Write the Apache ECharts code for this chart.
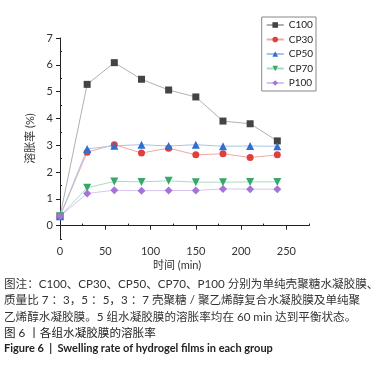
<!DOCTYPE html>
<html>
<head>
<meta charset="utf-8">
<script src="https://cdn.jsdelivr.net/npm/echarts@6/dist/echarts.min.js"></script>
<style>
  html, body { margin: 0; padding: 0; background: #fff; }
  #chart { width: 377px; height: 366px; }
</style>
</head>
<body>
<div id="chart"></div>
<script>
// 时间 (min)
const times = [0, 30, 60, 90, 120, 150, 180, 210, 240];
// 溶胀率 (%) per group
const c100 = [0.35, 5.27, 6.08, 5.46, 5.06, 4.80, 3.90, 3.80, 3.16];
const cp30 = [0.35, 2.74, 3.02, 2.71, 2.89, 2.64, 2.68, 2.54, 2.64];
const cp50 = [0.35, 2.86, 2.98, 3.02, 2.97, 3.02, 2.96, 2.97, 2.96];
const cp70 = [0.35, 1.41, 1.65, 1.63, 1.67, 1.62, 1.62, 1.63, 1.63];
const p100 = [0.35, 1.20, 1.32, 1.30, 1.31, 1.31, 1.37, 1.36, 1.36];

const xTicks = [0, 50, 100, 150, 200, 250];
const xMinorTicks = [25, 75, 125, 175, 225, 275];
const yTicks = [0, 1, 2, 3, 4, 5, 6, 7];
const yMinorTicks = [-0.5, 0.5, 1.5, 2.5, 3.5, 4.5, 5.5, 6.5];

const captionLines = [
  '图注：C100、CP30、CP50、CP70、P100 分别为单纯壳聚糖水凝胶膜、',
  '质量比 7 ：3，5 ：5，3 ：7 壳聚糖 / 聚乙烯醇复合水凝胶膜及单纯聚',
  '乙烯醇水凝胶膜。5 组水凝胶膜的溶胀率均在 60 min 达到平衡状态。'
];
const figTitleCn = '图 6 丨各组水凝胶膜的溶胀率';
const figTitleEn = 'Figure 6  |  Swelling rate of hydrogel films in each group';

const font = 'Lato, "Noto Sans CJK SC", sans-serif';
const axisColor = '#222';

const pairs = (vals) => times.map((t, i) => [t, vals[i]]);

const makeSeries = (name, vals, symbol, size, color, lineColor) => ({
  name: name,
  type: 'line',
  data: pairs(vals),
  symbol: symbol,
  symbolSize: size,
  itemStyle: { color: color },
  lineStyle: { color: lineColor, width: 1 },
  emphasis: { disabled: true },
  animation: false
});

const chart = echarts.init(document.getElementById('chart'), null, { renderer: 'canvas' });

const graphic = [
  {
    type: 'text', left: 153, top: 260,
    style: { text: '时间 (min)', font: '11px ' + font, fill: '#333' }
  }
];
captionLines.forEach((line, i) => {
  graphic.push({
    type: 'text', left: 4, top: 278 + i * 16.5,
    style: { text: line, font: '11.6px ' + font, fill: '#333' }
  });
});
graphic.push({
  type: 'text', left: 4, top: 327,
  style: { text: figTitleCn, font: '11.6px ' + font, fill: '#222' }
});
graphic.push({
  type: 'text', left: 4, top: 343,
  style: { text: figTitleEn, font: 'bold 11px ' + font, fill: '#222' }
});

const option = {
  animation: false,
  grid: { left: 60, right: 68, top: 38, bottom: 127, containLabel: false },
  legend: {
    orient: 'vertical',
    right: 61,
    top: 17,
    itemWidth: 17,
    itemHeight: 7,
    itemGap: 4.5,
    padding: [3, 3, 3, 4],
    borderColor: '#888',
    borderWidth: 1,
    textStyle: { fontFamily: font, fontSize: 10, color: '#222', padding: [0, 0, 0, 0] },
    data: ['C100', 'CP30', 'CP50', 'CP70', 'P100']
  },
  xAxis: [
    {
      type: 'value', min: 0, max: 275,
      axisLine: { show: true, lineStyle: { color: axisColor, width: 1 } },
      axisTick: { show: true, length: 4, customValues: xTicks, lineStyle: { color: axisColor } },
      axisLabel: { customValues: xTicks, fontFamily: font, fontSize: 11, color: '#333', margin: 7 },
      splitLine: { show: false }
    },
    {
      type: 'value', min: 0, max: 275, position: 'bottom',
      axisLine: { show: false },
      axisTick: { show: true, inside: true, length: 2, customValues: xMinorTicks, lineStyle: { color: axisColor } },
      axisLabel: { show: false },
      splitLine: { show: false }
    }
  ],
  yAxis: [
    {
      type: 'value', min: -0.5, max: 7,
      name: '溶胀率 (%)',
      nameLocation: 'middle',
      nameGap: 15,
      nameTextStyle: { fontFamily: font, fontSize: 11, color: '#333' },
      axisLine: { show: true, lineStyle: { color: axisColor, width: 1 } },
      axisTick: { show: true, length: 4, customValues: yTicks, lineStyle: { color: axisColor } },
      axisLabel: { customValues: yTicks, fontFamily: font, fontSize: 11, color: '#333', margin: 7 },
      splitLine: { show: false }
    },
    {
      type: 'value', min: -0.5, max: 7, position: 'left',
      axisLine: { show: false },
      axisTick: { show: true, inside: true, length: 2, customValues: yMinorTicks, lineStyle: { color: axisColor } },
      axisLabel: { show: false },
      splitLine: { show: false }
    }
  ],
  series: [
    makeSeries('C100', c100, 'rect', 7, '#444444', '#b0b0b0'),
    makeSeries('CP30', cp30, 'circle', 7, '#e0403c', '#f0a8a4'),
    makeSeries('CP50', cp50, 'triangle', 8, '#2f6fd0', '#a8c4ea'),
    makeSeries('CP70', cp70, 'path://M0,0 L10,0 L5,9 Z', 8, '#36a86a', '#a8dcc0'),
    makeSeries('P100', p100, 'diamond', 8, '#a674d8', '#d8c4ee')
  ],
  graphic: graphic
};

chart.setOption(option);
</script>
</body>
</html>
